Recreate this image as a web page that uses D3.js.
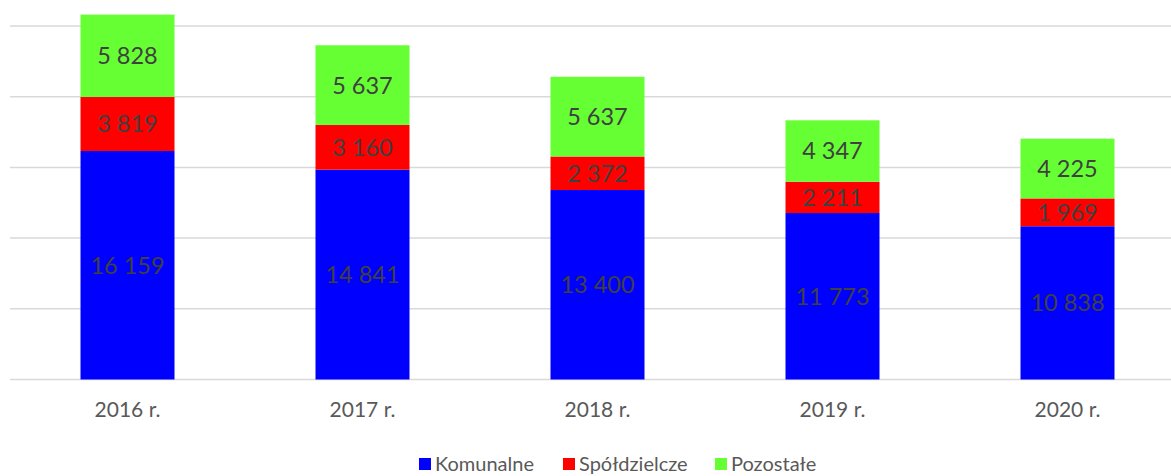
<!DOCTYPE html>
<html>
<head>
<meta charset="utf-8">
<script src="https://cdn.jsdelivr.net/npm/d3@7"></script>
<style>
  body { margin: 0; background: #fff; }
  svg { display: block; font-family: Lato, "Open Sans", sans-serif; }
</style>
</head>
<body>
<div id="chart"></div>
<script>
const years = ['2016 r.', '2017 r.', '2018 r.', '2019 r.', '2020 r.'];
const seriesNames = ['Komunalne', 'Spółdzielcze', 'Pozostałe'];
const komunalne = [16159, 14841, 13400, 11773, 10838];
const spoldzielcze = [3819, 3160, 2372, 2211, 1969];
const pozostale = [5828, 5637, 5637, 4347, 4225];
const colors = ['#0000ff', '#ff0000', '#66ff33'];
const gridTicks = [0, 5000, 10000, 15000, 20000, 25000];

const width = 1171, height = 476;

const rows = years.map((y, i) => ({
  year: y,
  Komunalne: komunalne[i],
  'Spółdzielcze': spoldzielcze[i],
  'Pozostałe': pozostale[i]
}));

const stack = d3.stack().keys(seriesNames)(rows);

const x = d3.scaleBand()
  .domain(years)
  .range([10, 1185])
  .paddingInner(0.6)
  .paddingOuter(0.3);

const y = d3.scaleLinear()
  .domain([0, 25000])
  .range([379.5, 26]);

const svg = d3.select('#chart')
  .append('svg')
  .attr('width', width)
  .attr('height', height);

// gridlines
svg.append('g')
  .selectAll('line')
  .data(gridTicks)
  .join('line')
  .attr('x1', 10)
  .attr('x2', width)
  .attr('y1', d => y(d))
  .attr('y2', d => y(d))
  .attr('stroke', '#d9d9d9')
  .attr('stroke-width', 1.5);

const fmt = v => d3.format(',')(v).replace(/,/g, '\u00a0');

const layers = svg.append('g')
  .selectAll('g')
  .data(stack)
  .join('g')
  .attr('fill', (d, i) => colors[i]);

layers.selectAll('rect')
  .data(d => d)
  .join('rect')
  .attr('x', d => x(d.data.year))
  .attr('width', x.bandwidth())
  .attr('y', d => y(d[1]))
  .attr('height', d => y(d[0]) - y(d[1]));

layers.selectAll('text')
  .data(d => d.map(p => ({ p, key: d.key })))
  .join('text')
  .attr('x', d => x(d.p.data.year) + x.bandwidth() / 2)
  .attr('y', d => (y(d.p[0]) + y(d.p[1])) / 2)
  .attr('dy', '0.36em')
  .attr('text-anchor', 'middle')
  .attr('fill', '#404040')
  .attr('font-size', 23.5)
  .text(d => fmt(d.p.data[d.key]));

// x axis labels
svg.append('g')
  .selectAll('text')
  .data(years)
  .join('text')
  .attr('x', d => x(d) + x.bandwidth() / 2)
  .attr('y', 417)
  .attr('text-anchor', 'middle')
  .attr('fill', '#595959')
  .attr('font-size', 21)
  .text(d => d);

// legend
const legendX = [419, 563, 715];
const legend = svg.append('g')
  .selectAll('g')
  .data(seriesNames)
  .join('g')
  .attr('transform', (d, i) => `translate(${legendX[i]},458)`);

legend.append('rect')
  .attr('width', 12)
  .attr('height', 12)
  .attr('fill', (d, i) => colors[i]);

legend.append('text')
  .attr('x', 16)
  .attr('y', 13)
  .attr('fill', '#595959')
  .attr('font-size', 20)
  .text(d => d);
</script>
</body>
</html>
